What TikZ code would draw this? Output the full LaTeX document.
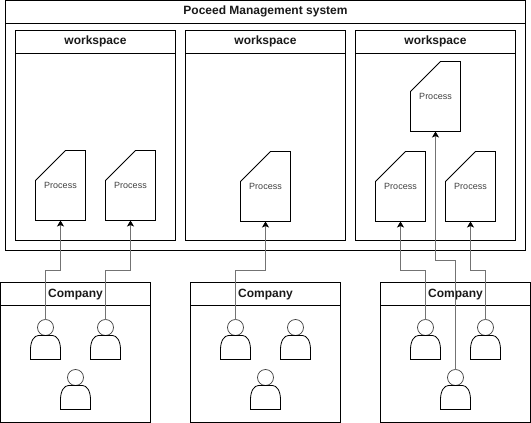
\documentclass[tikz,border=0pt]{standalone}
\usepackage{fontspec}
\setmainfont{Liberation Sans}
\usepackage{xcolor}
\usetikzlibrary{arrows.meta,positioning,calc}
\tikzset{
  lanebox/.style={draw, line width=0.9pt, anchor=north west, inner sep=0pt, outer sep=0pt},
  lanetitle/.style={draw, line width=0.9pt, anchor=north west, inner sep=0pt, outer sep=0pt, text height=9pt, text depth=3pt, font=\fontsize{12}{14}\selectfont\bfseries, text=black!90},
  processbox/.style={minimum width=50pt, minimum height=70pt, inner sep=0pt, outer sep=0pt, font=\fontsize{9}{11}\selectfont, text=black!75},
  outline/.style={draw, line width=0.9pt},
  head/.style={draw, circle, black!75, line width=0.7pt, minimum size=16pt, inner sep=0pt, outer sep=0pt},
  body/.style={draw, line width=0.8pt},
  line/.style={-{Stealth[length=6pt,width=7pt,inset=1.5pt,black]}, black!55, line width=0.7pt}
}
% one process sheet: plain node, outline with the cut corner drawn from its anchors
\newcommand{\processnode}[3]{
  \node[processbox] (#1) at (#2,#3) {Process};
  \draw[outline] (#1.south west) -- ($(#1.north west)+(0,30)$) -- ($(#1.north west)+(30,0)$) -- (#1.north east) -- (#1.south east) -- cycle;
}
% one user: round head as a node, shoulders hung below it
\newcommand{\usernode}[3]{
  \node[head] (#1) at (#2,#3) {};
  \draw[body] ($(#1.south)+(-15,24)$) -- ++(0,-10) .. controls +(0,-9) and +(-4,0) .. ++(8,-14) -- ++(14,0) .. controls +(4,0) and +(0,-9) .. ++(8,14) -- ++(0,10) -- cycle;
}
\begin{document}
\begin{tikzpicture}[x=1pt,y=-1pt]
  \useasboundingbox (0,0) rectangle (531,423);
  % management system
  \node[lanebox, minimum width=520pt, minimum height=250pt] (pms) at (5.5,0.5) {};
  \node[lanetitle, minimum width=520pt, minimum height=23pt] (pmstitle) at (5.5,0.5) {Poceed Management system};
  % workspaces
  \foreach \n/\x in {1/15.5,2/185.5,3/355.5}{
    \node[lanebox, minimum width=160pt, minimum height=210pt] (ws\n) at (\x,30.5) {};
    \node[lanetitle, minimum width=160pt, minimum height=23pt] (wstitle\n) at (\x,30.5) {workspace};
  }
  % processes
  \processnode{p1}{60.5}{185.5}
  \processnode{p2}{130.5}{185.5}
  \processnode{p3}{265.5}{186.5}
  \processnode{p4}{400.5}{186.5}
  \processnode{p5}{470.5}{186.5}
  \processnode{p6}{435.5}{96.5}
  % companies
  \foreach \n/\x in {1/0.5,2/190.5,3/380.5}{
    \node[lanebox, minimum width=150pt, minimum height=140pt] (co\n) at (\x,282.5) {};
    \node[lanetitle, minimum width=150pt, minimum height=23pt] (cotitle\n) at (\x,282.5) {Company};
  }
  % users
  \usernode{u1}{45.5}{327.5}
  \usernode{u2}{105.5}{327.5}
  \usernode{u3}{75.5}{377.5}
  \usernode{u4}{235.5}{327.5}
  \usernode{u5}{295.5}{327.5}
  \usernode{u6}{265.5}{377.5}
  \usernode{u7}{425.5}{327.5}
  \usernode{u8}{485.5}{327.5}
  \usernode{u9}{455.5}{377.5}
  % connectors
  \draw[line] (u1.north) |- (60.5,270) -- (p1.south);
  \draw[line] (u2.north) |- (130.5,270) -- (p2.south);
  \draw[line] (u4.north) |- (265.5,270) -- (p3.south);
  \draw[line] (u7.north) |- (400.5,270) -- (p4.south);
  \draw[line] (u8.north) |- (470.5,270) -- (p5.south);
  \draw[line] (u9.north) |- (435.5,260) -- (p6.south);
\end{tikzpicture}
\end{document}
